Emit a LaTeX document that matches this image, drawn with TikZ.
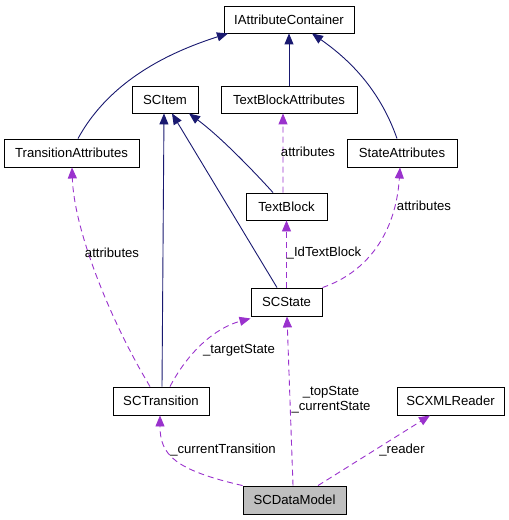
\documentclass[tikz,border=0pt]{standalone}
\usepackage{fontspec}
\setmainfont{Liberation Sans}
\usetikzlibrary{arrows.meta}
\definecolor{inh}{HTML}{191970}
\definecolor{use}{HTML}{9A32CD}
\definecolor{dmfill}{HTML}{BFBFBF}
\begin{document}
\begin{tikzpicture}[x=1bp,y=-1bp,
  box/.style={draw=black,line width=0.9bp,fill=white,inner sep=0pt,minimum height=27bp,font=\fontsize{13.2}{15}\selectfont},
  inhline/.style={draw=inh,line width=0.9bp,-{Triangle[length=11bp,width=9bp,fill=inh]}},
  useline/.style={draw=use,line width=0.9bp,dash pattern=on 6bp off 4bp,-{Triangle[length=11bp,width=9bp,fill=use]}},
  lbl/.style={inner sep=0pt,font=\fontsize{13.2}{15}\selectfont,align=center}]
\useasboundingbox (0,0) rectangle (509,520);
\node[box,minimum width=130bp] (iac) at (289,19.5) {IAttributeContainer};
\node[box,minimum width=66bp] (sci) at (165,99.5) {SCItem};
\node[box,minimum width=136bp] (tba) at (289,99.5) {TextBlockAttributes};
\node[box,minimum width=135bp,minimum height=28bp] (ta) at (71.5,153) {TransitionAttributes};
\node[box,minimum width=110bp,minimum height=28bp] (sa) at (402,153) {StateAttributes};
\node[box,minimum width=81bp] (tb) at (286.5,206.5) {TextBlock};
\node[box,minimum width=71bp,minimum height=28bp] (scs) at (286.5,302) {SCState};
\node[box,minimum width=96bp,minimum height=28bp] (sct) at (161,401) {SCTransition};
\node[box,minimum width=107bp,minimum height=28bp] (xml) at (450.5,401) {SCXMLReader};
\node[box,minimum width=103bp,minimum height=28bp,fill=dmfill] (dm) at (294.5,500) {SCDataModel};
% inheritance
\draw[inhline] ([xshift=6.5bp]ta.north) .. controls (110,80) and (170,52) .. ([xshift=-61bp]iac.south);
\draw[inhline] (tba.north) -- (iac.south);
\draw[inhline] ([xshift=-5bp]sa.north) .. controls (380,90) and (350,60) .. ([xshift=23bp]iac.south);
\draw[inhline] ([xshift=1bp]sct.north) -- ([xshift=-1bp]sci.south);
\draw[inhline] ([xshift=-9.5bp]scs.north) -- ([xshift=7bp]sci.south);
\draw[inhline] ([xshift=-13.5bp]tb.north) .. controls (248,165) and (218,135) .. ([xshift=24bp]sci.south);
% usage
\draw[useline] ([xshift=-3.5bp]tb.north) -- ([xshift=-6bp]tba.south);
\node[lbl] (l1) at (308,152) {attributes};
\draw[useline] (scs.north east) .. controls (368,272) and (396,232) .. ([xshift=-2bp]sa.south);
\node[lbl] (l2) at (424,206) {attributes};
\draw[useline] (scs.north) -- (tb.south);
\node[lbl] (l3) at (324,253) {\_IdTextBlock};
\draw[useline] ([xshift=-11bp]sct.north) .. controls (110,320) and (74,230) .. ([xshift=0.5bp]ta.south);
\node[lbl] (l4) at (112,253) {attributes};
\draw[useline] ([xshift=9bp]sct.north) .. controls (188,352) and (215,328) .. ([yshift=-2bp]scs.south west);
\node[lbl] (l5) at (239,350) {\_targetState};
\draw[useline] (dm.north west) .. controls (175,470) and (160,455) .. ([xshift=-1bp]sct.south);
\node[lbl] (l6) at (223,450) {\_currentTransition};
\draw[useline] ([xshift=-1.5bp]dm.north) -- ([xshift=0.5bp]scs.south);
\node[lbl] (l7) at (331,400) {\_topState\\\_currentState};
\draw[useline] ([xshift=23.5bp]dm.north) -- ([xshift=-20.5bp]xml.south);
\node[lbl] (l8) at (402,450) {\_reader};
\end{tikzpicture}
\end{document}
